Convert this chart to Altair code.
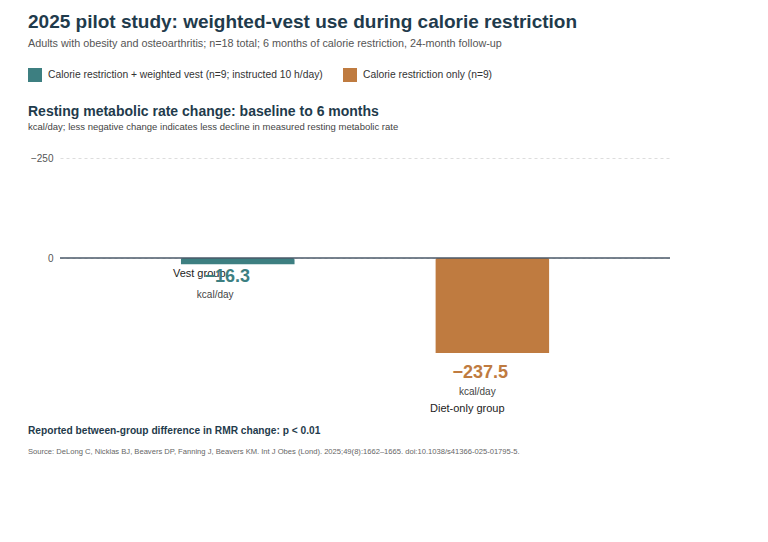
import altair as alt
import pandas as pd

# ---- data ----
groups = ["Vest group", "Diet-only group"]
legend_labels = [
    "Calorie restriction + weighted vest (n=9; instructed 10 h/day)",
    "Calorie restriction only (n=9)",
]
rmr_change = [-16.3, -237.5]
value_labels = ["\u221216.3", "\u2212237.5"]
unit_labels = ["kcal/day", "kcal/day"]

title_text = "2025 pilot study: weighted-vest use during calorie restriction"
subtitle_text = ("Adults with obesity and osteoarthritis; n=18 total; 6 months of calorie "
                 "restriction, 24-month follow-up")
section_title = "Resting metabolic rate change: baseline to 6 months"
section_sub = "kcal/day; less negative change indicates less decline in measured resting metabolic rate"
footer_text = "Reported between-group difference in RMR change: p < 0.01"
source_text = ("Source: DeLong C, Nicklas BJ, Beavers DP, Fanning J, Beavers KM. Int J Obes (Lond). "
               "2025;49(8):1662\u20131665. doi:10.1038/s41366-025-01795-5.")

df = pd.DataFrame({
    "group": groups,
    "legend": legend_labels,
    "value": rmr_change,
    "vlabel": value_labels,
    "unit": unit_labels,
})

FONT = "Liberation Sans, Arial, Helvetica, sans-serif"
DARK = "#1f3b4c"
TEAL = "#3d7f81"
ORANGE = "#bf7b40"

xenc = alt.X("group:N", sort=groups, axis=None,
             scale=alt.Scale(paddingInner=0.552, paddingOuter=0.474))
yscale = alt.Scale(domain=[-250, 250], nice=False)

bars = alt.Chart(df).mark_bar(cornerRadiusEnd=2).encode(
    x=xenc,
    y=alt.Y("value:Q", scale=yscale, title=None,
            axis=alt.Axis(values=[0, 250], labelExpr="datum.value == 250 ? '\u2212250' : '0'",
                          domain=False, ticks=False, labelPadding=7, labelFontSize=10,
                          labelColor="#555", labelFont=FONT,
                          grid=True, gridDash=[3, 3], gridColor="#dddddd", gridWidth=1)),
    color=alt.Color("legend:N", scale=alt.Scale(domain=legend_labels, range=[TEAL, ORANGE]),
                    title=None,
                    legend=alt.Legend(orient="none", legendX=-32, legendY=-90,
                                      direction="horizontal", symbolType="square",
                                      symbolSize=196, symbolStrokeWidth=0, symbolOpacity=1,
                                      labelFontSize=10.3, labelColor="#333", labelFont=FONT,
                                      labelLimit=500, labelOffset=6, columnPadding=20)),
)

zero = alt.Chart(pd.DataFrame({"z": [0]})).mark_rule(color="#4a5868", strokeWidth=1.5).encode(
    y=alt.Y("z:Q", scale=yscale)
)


def lab(group, field, dx, dy, size, color, bold=False):
    return alt.Chart(df).transform_filter(alt.datum.group == group).mark_text(
        dx=dx, dy=dy, fontSize=size, color=color, font=FONT,
        fontWeight="bold" if bold else "normal", baseline="middle", align="center"
    ).encode(x=xenc, y=alt.Y("value:Q", scale=yscale), text=f"{field}:N")


labels = [
    lab("Vest group", "group", -38.5, 9.5, 11, "#222"),
    lab("Vest group", "vlabel", -10.5, 12.5, 18, TEAL, True),
    lab("Vest group", "unit", -22.5, 30.5, 10, "#444"),
    lab("Diet-only group", "vlabel", -12, 20, 18, ORANGE, True),
    lab("Diet-only group", "unit", -15, 39, 10, "#444"),
    lab("Diet-only group", "group", -25, 56, 11, "#222"),
]

one = pd.DataFrame({"k": [0]})


def txt(t, x, y, size, color, bold=False):
    return alt.Chart(one).mark_text(
        text=t, fontSize=size, color=color, font=FONT, align="left", baseline="alphabetic",
        fontWeight="bold" if bold else "normal"
    ).encode(x=alt.value(x), y=alt.value(y))


texts = [
    txt(title_text, -32, -130, 19, DARK, True),
    txt(subtitle_text, -32, -111, 10.8, "#555"),
    txt(section_title, -32, -42.5, 14, DARK, True),
    txt(section_sub, -32, -28, 9.5, "#444"),
    txt(footer_text, -32, 275.5, 10.2, DARK, True),
    txt(source_text, -32, 296, 7.6, "#666"),
]

chart = alt.layer(bars, zero, *labels, *texts).properties(
    width=610, height=200,
    background="white",
    autosize=alt.AutoSizeParams(type="none"),
    padding={"left": 52, "top": 150, "right": 90, "bottom": 170},
).configure_view(strokeWidth=0)

chart.save("out.html", embed_options={"renderer": "svg", "actions": False})
